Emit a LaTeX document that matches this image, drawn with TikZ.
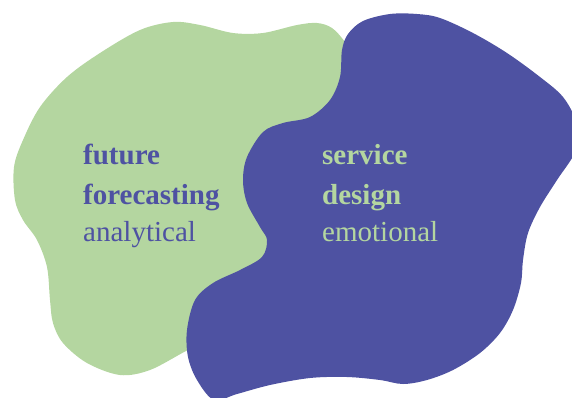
\documentclass[tikz,border=0pt]{standalone}
\usepackage{fontspec}
\setmainfont{Liberation Serif}
\definecolor{blobgreen}{RGB}{180,214,160}
\definecolor{blobpurple}{RGB}{78,82,162}
\begin{document}
\begin{tikzpicture}[x=1pt,y=-1pt,
  lbl/.style={anchor=base west, inner sep=0pt, font=\fontsize{29}{29}\selectfont},
  bold/.style={font=\bfseries\fontsize{29}{29}\selectfont}]
\clip (0,0) rectangle (572,397);
% green blob
\fill[blobgreen] plot[smooth cycle, tension=0.55] coordinates {
  (173,22) (200,25) (233,33) (263,33) (297,25) (317,23) (332,28) (345,42)
  (360,65) (360,130) (320,220) (260,300) (215,337)
  (186,351) (150,370) (120,375) (87,363) (63,343) (53,323) (50,300)
  (47,267) (37,240) (23,220) (15,200) (14,167) (23,140) (40,107)
  (67,77) (100,53) (140,30)};
% purple blob
\fill[blobpurple] plot[smooth cycle, tension=0.55] coordinates {
  (390,14) (417,14) (440,18) (473,33) (507,53) (540,77) (563,97)
  (576,122) (576,150) (557,180) (540,207) (528,233) (523,260) (521,283)
  (513,310) (500,333) (480,353) (453,370) (427,380) (403,384) (380,380)
  (347,377) (310,378) (270,385) (237,394) (214,400)
  (197,380) (188,357) (187,330) (195,300) (213,283) (240,270) (262,257)
  (267,240) (260,227) (247,203) (243,180) (247,157) (263,132) (283,123)
  (310,117) (330,100) (340,77) (342,50) (348,34) (363,21)};
% left texts
\node[lbl, bold, text=blobpurple] (l1) at (83,164) {future};
\node[lbl, bold, text=blobpurple] (l2) at (83,204) {forecasting};
\node[lbl, text=blobpurple] (l3) at (83,241) {analytical};
% right texts
\node[lbl, bold, text=blobgreen] (r1) at (322,164) {service};
\node[lbl, bold, text=blobgreen] (r2) at (322,204) {design};
\node[lbl, text=blobgreen] (r3) at (322,241) {emotional};
\end{tikzpicture}
\end{document}
